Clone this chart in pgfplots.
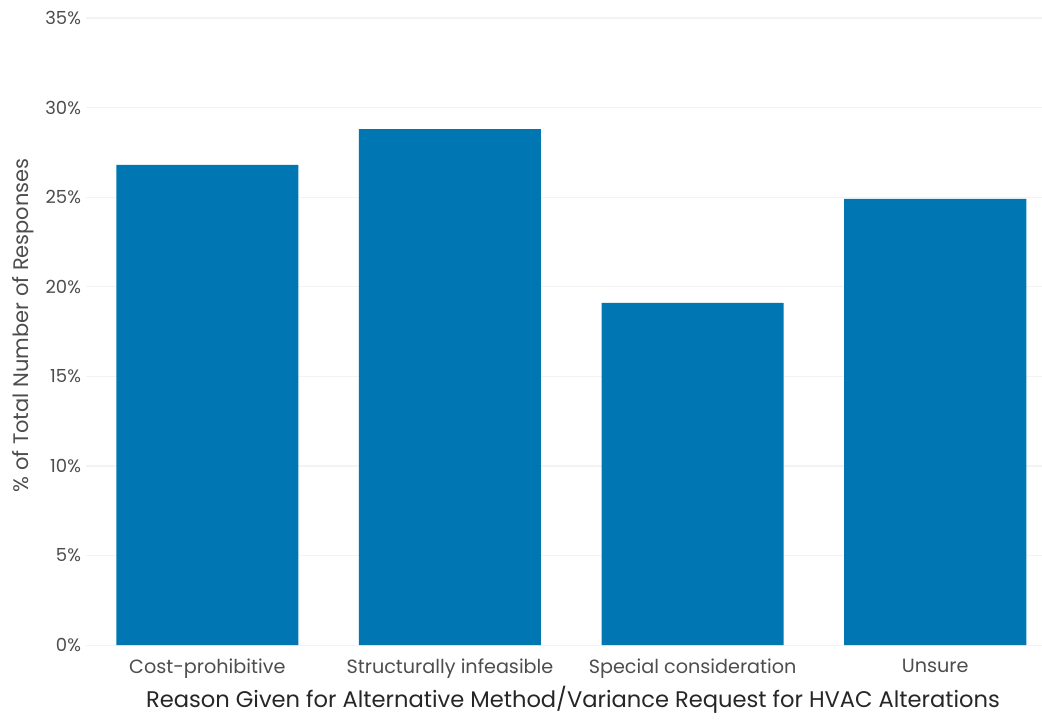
\documentclass[border=0pt]{standalone}
\usepackage{pgfplots}
\pgfplotsset{compat=1.18}
\usepackage{fontspec}
\setmainfont{Poppins}
\definecolor{barblue}{HTML}{0077B3}
\definecolor{ticktext}{HTML}{4D4D4D}
\definecolor{gridc}{HTML}{F3F3F3}
\begin{document}
\begin{tikzpicture}
\begin{axis}[
  scale only axis,
  width=477.9pt, height=313.5pt,
  xmin=-0.5, xmax=3.44,
  ymin=0, ymax=35,
  axis line style={draw=none},
  tick style={draw=none},
  xtick=data,
  xticklabels={Cost-prohibitive, Structurally infeasible, Special consideration, Unsure},
  ytick={0,5,10,15,20,25,30,35},
  yticklabel={\pgfmathprintnumber{\tick}\%},
  /pgf/number format/assume math mode=true,
  ymajorgrids, major grid style={gridc, line width=0.6pt},
  yticklabel style={font=\fontsize{9}{10}\selectfont, text=ticktext, xshift=1pt},
  xticklabel style={font=\fontsize{9.6}{11}\selectfont, text=ticktext, yshift=1pt},
  ylabel={\% of Total Number of Responses},
  ylabel style={font=\fontsize{10.5}{12}\selectfont, text=ticktext, at={(axis description cs:-0.066,0.51)}, anchor=center, rotate=0},
  xlabel={Reason Given for Alternative Method/Variance Request for HVAC Alterations},
  xlabel style={font=\fontsize{11.3}{13}\selectfont, text=black!85, at={(axis description cs:0.5,0)}, xshift=4.5pt, yshift=-27.5pt, anchor=center},
  ybar, bar width=91pt,
]
\addplot[fill=barblue, draw=none] coordinates {(0,26.8) (1,28.8) (2,19.1) (3,24.9)};
\end{axis}
\pgfresetboundingbox
\path[use as bounding box] ([xshift=-43pt,yshift=-38pt]current axis.south west) rectangle ([yshift=9pt]current axis.north east);
\end{tikzpicture}
\end{document}
